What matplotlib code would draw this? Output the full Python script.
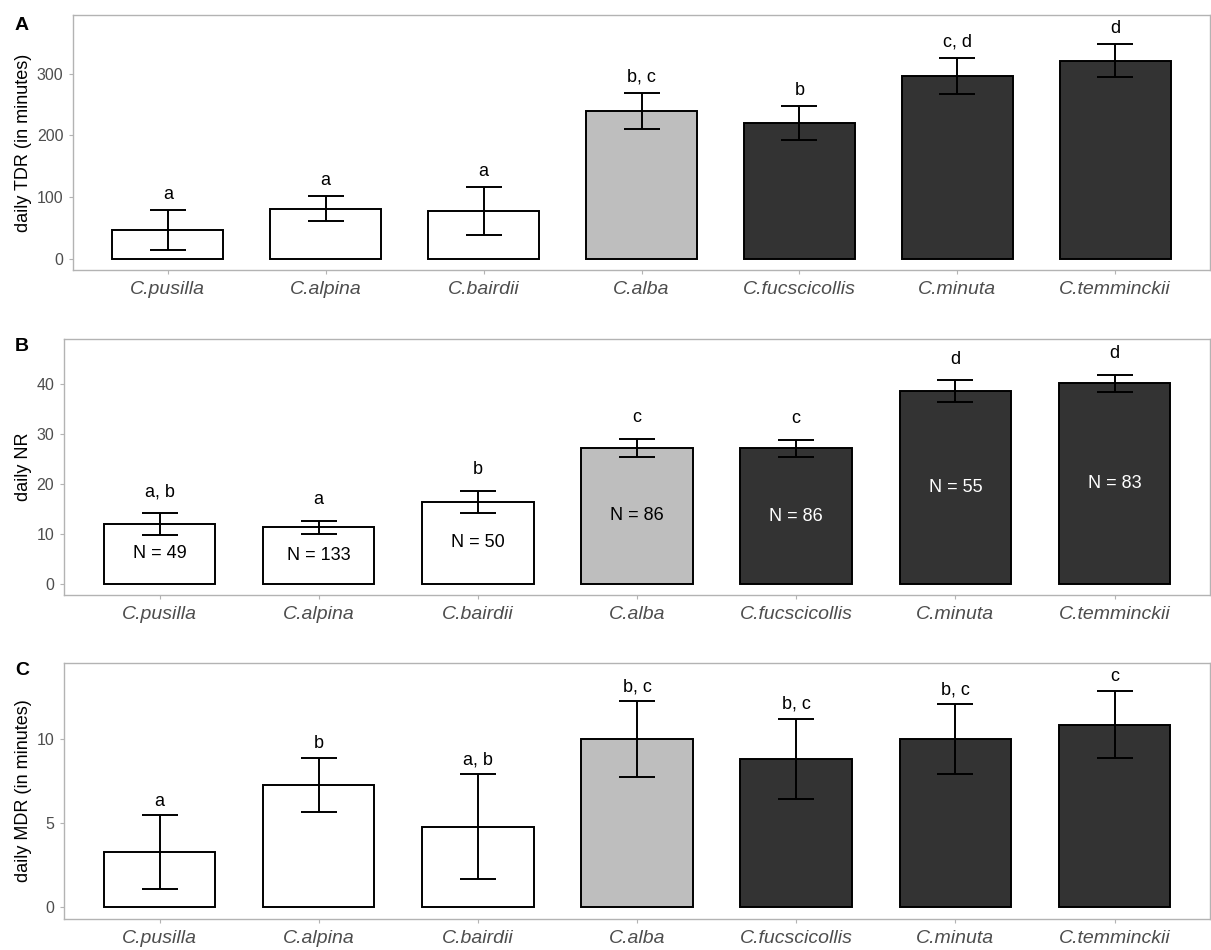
import matplotlib
matplotlib.use('Agg')
import matplotlib.pyplot as plt
import numpy as np

plt.rcParams['font.family'] = ['Liberation Sans', 'DejaVu Sans']

species = ['C.pusilla', 'C.alpina', 'C.bairdii', 'C.alba',
           'C.fucscicollis', 'C.minuta', 'C.temminckii']

# A: daily TDR
tdrMean = [47, 81.5, 78, 240, 220, 296, 321]
tdrErr = [32, 20, 39, 29, 28, 29.5, 27]
tdrLetters = ['a', 'a', 'a', 'b, c', 'b', 'c, d', 'd']

# B: daily NR
nrMean = [12.0, 11.3, 16.4, 27.2, 27.1, 38.5, 40.1]
nrErr = [2.2, 1.35, 2.25, 1.8, 1.7, 2.15, 1.7]
nrLetters = ['a, b', 'a', 'b', 'c', 'c', 'd', 'd']
nCounts = [49, 133, 50, 86, 86, 55, 83]

# C: daily MDR
mdrMean = [3.25, 7.26, 4.78, 9.96, 8.79, 9.98, 10.83]
mdrErr = [2.2, 1.6, 3.1, 2.26, 2.4, 2.1, 2.0]
mdrLetters = ['a', 'b', 'a, b', 'b, c', 'b, c', 'b, c', 'c']

fillColours = ['white', 'white', 'white', '#bebebe', '#333333', '#333333', '#333333']

W, H = 1211, 950


def drawPanel(rect, means, errs, letters, yticks, ylim, ylabel, letterPad, labelX, tag, tagY):
    ax = fig.add_axes([rect[0] / W, 1 - rect[3] / H, (rect[2] - rect[0]) / W, (rect[3] - rect[1]) / H])
    x = np.arange(len(species))
    ax.bar(x, means, width=0.7, color=fillColours, edgecolor='black', linewidth=1.4, zorder=2)
    ax.errorbar(x, means, yerr=errs, fmt='none', ecolor='black', elinewidth=1.4,
                capsize=13, capthick=1.4, zorder=3)
    for i in range(len(x)):
        ax.annotate(letters[i], (x[i], means[i] + errs[i]), xytext=(0, letterPad),
                    textcoords='offset points', ha='center', va='baseline', fontsize=13)
    ax.set_xlim(-0.6, len(species) - 0.4)
    ax.set_ylim(*ylim)
    ax.set_yticks(yticks)
    ax.set_xticks(x)
    ax.set_xticklabels(species, fontstyle='italic', fontsize=14, color='#4d4d4d')
    ax.tick_params(axis='y', labelsize=11.5, labelcolor='#4d4d4d', color='#b3b3b3', length=3, pad=4)
    ax.tick_params(axis='x', color='#b3b3b3', length=3, pad=5)
    for sp in ax.spines.values():
        sp.set_color('#b3b3b3')
        sp.set_linewidth(1.0)
    ax.set_ylabel(ylabel, fontsize=13)
    ax.yaxis.set_label_coords(labelX, 0.5)
    fig.text(15 / W, 1 - tagY / H, tag, fontsize=14, fontweight='bold', va='top', ha='left')
    return ax


fig = plt.figure(figsize=(W / 100, H / 100), dpi=100)

drawPanel((73, 15, 1210, 270), tdrMean, tdrErr, tdrLetters, [0, 100, 200, 300], (-18, 395),
          'daily TDR (in minutes)', 8, -0.036, 'A', 17)

axB = drawPanel((64, 339, 1210, 595), nrMean, nrErr, nrLetters, [0, 10, 20, 30, 40], (-2.2, 48.9),
                'daily NR', 12, -0.028, 'B', 338)
for i in range(len(species)):
    txtColour = 'white' if fillColours[i] == '#333333' else 'black'
    axB.text(i, nrMean[i] / 2, 'N = ' + str(nCounts[i]), ha='center', va='center',
             fontsize=13, color=txtColour, zorder=4)

drawPanel((64, 663, 1210, 919), mdrMean, mdrErr, mdrLetters, [0, 5, 10], (-0.71, 14.5),
          'daily MDR (in minutes)', 7, -0.028, 'C', 662)

fig.savefig('out.png', dpi=100)
